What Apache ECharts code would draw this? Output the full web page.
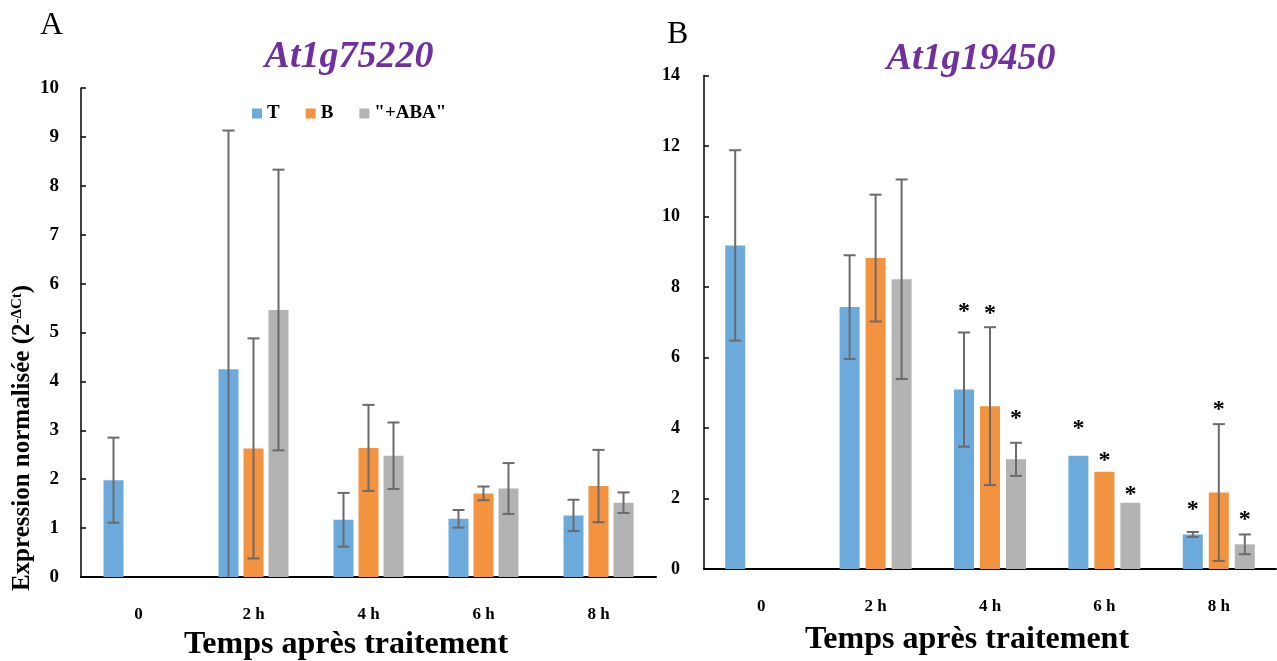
<!DOCTYPE html>
<html><head><meta charset="utf-8">
<script src="https://cdn.jsdelivr.net/npm/echarts@6.0.0/dist/echarts.min.js"></script>
<style>html,body{margin:0;padding:0;background:#fff}#c{width:1277px;height:661px}</style>
</head><body><div id="c"></div>
<script>
// ---- data ----
const categories = ['0', '2 h', '4 h', '6 h', '8 h'];
const seriesNames = ['T', 'B', '"+ABA"'];
// Panel A : At1g75220
const aT = [1.98, 4.25, 1.17, 1.19, 1.26];
const aB = [null, 2.63, 2.64, 1.71, 1.86];
const aABA = [null, 5.46, 2.48, 1.81, 1.52];
const aTErr = [0.87, 4.88, 0.55, 0.18, 0.32];
const aBErr = [null, 2.25, 0.88, 0.14, 0.74];
const aABAErr = [null, 2.87, 0.68, 0.52, 0.21];
// Panel B : At1g19450
const bT = [9.18, 7.43, 5.09, 3.21, 0.98];
const bB = [null, 8.82, 4.62, 2.76, 2.17];
const bABA = [null, 8.22, 3.11, 1.88, 0.70];
const bTErr = [2.70, 1.47, 1.62, null, 0.07];
const bBErr = [null, 1.80, 2.24, null, 1.94];
const bABAErr = [null, 2.83, 0.47, null, 0.28];
// significance asterisk heights (data units)
const bTSig = [null, null, 7.44, 4.13, 1.82];
const bBSig = [null, null, 7.39, 3.21, 4.65];
const bABASig = [null, null, 4.41, 2.25, 1.54];
const yTicksA = {min: 0, max: 10, interval: 1};
const yTicksB = {min: 0, max: 14, interval: 2};

// ---- style ----
const FONT = "'Liberation Serif', 'Times New Roman', serif";
const COLORS = ['#6CAADC', '#F3923F', '#B3B3B3'];
const ERR_COLOR = '#6b6b6b';

const chart = echarts.init(document.getElementById('c'), null, {renderer: 'canvas'});

function errSeries(gridIdx, slot, vals, errs, barW, gap) {
  const data = [];
  vals.forEach((v, i) => { if (v != null && errs[i] != null) data.push([i, v, errs[i]]); });
  return {
    type: 'custom', xAxisIndex: gridIdx, yAxisIndex: gridIdx, z: 5, silent: true,
    data: data,
    renderItem: function (params, api) {
      const xi = api.value(0), v = api.value(1), e = api.value(2);
      const top = api.coord([xi, v + e]);
      const low = v - e;
      const bot = api.coord([xi, Math.max(0, low)]);
      const x = top[0] + (slot - 1) * (barW + gap);
      const half = 6;
      const st = {stroke: ERR_COLOR, lineWidth: 2};
      const ch = [
        {type: 'line', shape: {x1: x, y1: top[1], x2: x, y2: bot[1]}, style: st},
        {type: 'line', shape: {x1: x - half, y1: top[1], x2: x + half, y2: top[1]}, style: st}
      ];
      if (low > 0) ch.push({type: 'line', shape: {x1: x - half, y1: bot[1], x2: x + half, y2: bot[1]}, style: st});
      return {type: 'group', children: ch};
    }
  };
}

function sigSeries(gridIdx, slot, sigs, barW, gap) {
  const data = [];
  sigs.forEach((s, i) => { if (s != null) data.push([i, s]); });
  return {
    type: 'custom', xAxisIndex: gridIdx, yAxisIndex: gridIdx, z: 6, silent: true,
    data: data,
    renderItem: function (params, api) {
      const p = api.coord([api.value(0), api.value(1)]);
      const x = p[0] + (slot - 1) * (barW + gap);
      return {type: 'text', x: x, y: p[1] + 5,
        style: {text: '*', fontFamily: FONT, fontWeight: 'bold', fontSize: 24, fill: '#000', align: 'center', verticalAlign: 'middle'}};
    }
  };
}

function barSeries(gridIdx, idx, vals, barW, gap) {
  return {
    name: seriesNames[idx], type: 'bar', xAxisIndex: gridIdx, yAxisIndex: gridIdx,
    data: vals, barWidth: barW, barGap: (gap / barW * 100) + '%',
    itemStyle: {color: COLORS[idx]}, silent: true
  };
}

const axisLabelY = (size) => ({fontFamily: FONT, fontWeight: 'bold', fontSize: size, color: '#000'});

function xAxis(gridIdx) {
  return {
    type: 'category', gridIndex: gridIdx, data: categories, boundaryGap: true,
    axisLine: {lineStyle: {color: '#000', width: 2}},
    axisTick: {inside: true, length: 5, lineStyle: {color: '#000', width: 1.5}},
    axisLabel: {fontFamily: FONT, fontWeight: 'bold', fontSize: 17, color: '#000', margin: 29},
    splitLine: {show: false}
  };
}
function yAxis(gridIdx, t, size, margin) {
  return {
    type: 'value', gridIndex: gridIdx, min: t.min, max: t.max, interval: t.interval,
    axisLine: {show: true, lineStyle: {color: '#000', width: 1.5}},
    axisTick: {show: true, inside: true, length: 5, lineStyle: {color: '#000', width: 1.5}},
    axisLabel: Object.assign(axisLabelY(size), {margin: margin}),
    splitLine: {show: false}
  };
}

const BWA = 20, GA = 5, BWB = 20, GB = 6;

const option = {
  animation: false,
  backgroundColor: '#fff',
  grid: [
    {left: 81, top: 88, width: 575, height: 489},
    {left: 704, top: 75.5, width: 572, height: 493.5}
  ],
  legend: {
    data: seriesNames, left: 247, top: 99, icon: 'rect', itemWidth: 10, itemHeight: 10, itemGap: 26,
    textStyle: {fontFamily: FONT, fontWeight: 'bold', fontSize: 19, color: '#000'},
    selectedMode: false
  },
  xAxis: [xAxis(0), xAxis(1)],
  yAxis: [yAxis(0, yTicksA, 19, 22), yAxis(1, yTicksB, 18, 24)],
  series: [
    barSeries(0, 0, aT, BWA, GA), barSeries(0, 1, aB, BWA, GA), barSeries(0, 2, aABA, BWA, GA),
    barSeries(1, 0, bT, BWB, GB), barSeries(1, 1, bB, BWB, GB), barSeries(1, 2, bABA, BWB, GB),
    errSeries(0, 0, aT, aTErr, BWA, GA), errSeries(0, 1, aB, aBErr, BWA, GA), errSeries(0, 2, aABA, aABAErr, BWA, GA),
    errSeries(1, 0, bT, bTErr, BWB, GB), errSeries(1, 1, bB, bBErr, BWB, GB), errSeries(1, 2, bABA, bABAErr, BWB, GB),
    sigSeries(1, 0, bTSig, BWB, GB), sigSeries(1, 1, bBSig, BWB, GB), sigSeries(1, 2, bABASig, BWB, GB)
  ],
  graphic: [
    {type: 'text', left: 40, top: 10, style: {text: 'A', fontFamily: FONT, fontSize: 32, fill: '#000'}},
    {type: 'text', left: 667, top: 19, style: {text: 'B', fontFamily: FONT, fontSize: 32, fill: '#000'}},
    {type: 'text', x: 349, y: 57, style: {text: 'At1g75220', fontFamily: FONT, fontStyle: 'italic', fontWeight: 'bold', fontSize: 38, fill: '#7030A0', align: 'center', verticalAlign: 'middle'}},
    {type: 'text', x: 971, y: 59, style: {text: 'At1g19450', fontFamily: FONT, fontStyle: 'italic', fontWeight: 'bold', fontSize: 38, fill: '#7030A0', align: 'center', verticalAlign: 'middle'}},
    {type: 'text', x: 346, y: 645, style: {text: 'Temps après traitement', fontFamily: FONT, fontWeight: 'bold', fontSize: 32, fill: '#000', align: 'center', verticalAlign: 'middle'}},
    {type: 'text', x: 967, y: 640, style: {text: 'Temps après traitement', fontFamily: FONT, fontWeight: 'bold', fontSize: 32, fill: '#000', align: 'center', verticalAlign: 'middle'}},
    {type: 'text', x: 23, y: 438, rotation: Math.PI / 2,
      style: {text: '{a|Expression normalisée (2}{s|-ΔCt}{a|)}', align: 'center', verticalAlign: 'middle',
        rich: {
          a: {fontFamily: FONT, fontWeight: 'bold', fontSize: 25, fill: '#000', lineHeight: 26},
          s: {fontFamily: FONT, fontWeight: 'bold', fontSize: 15, fill: '#000', lineHeight: 26, verticalAlign: 'top'}
        }}}
  ]
};
chart.setOption(option);
</script>
</body></html>
